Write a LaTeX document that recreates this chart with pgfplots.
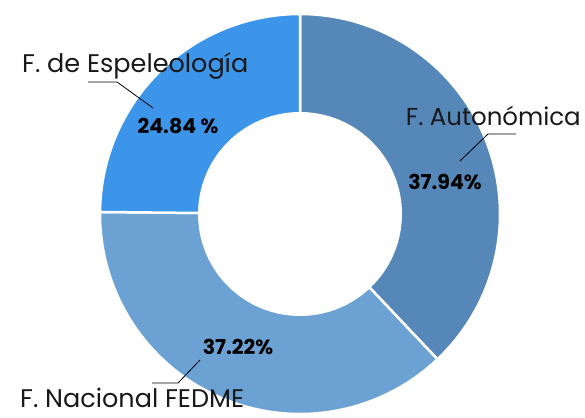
\documentclass[border=0pt]{standalone}
\usepackage{pgfplots}
\pgfplotsset{compat=1.18}
\usepackage{fontspec}
\setmainfont{Poppins}
\definecolor{cA}{HTML}{5587B9}
\definecolor{cB}{HTML}{6CA2D3}
\definecolor{cC}{HTML}{3C95E9}
\begin{document}
\begin{tikzpicture}
% shares (percent)
\pgfmathsetmacro{\pA}{37.94}% F. Autonomica
\pgfmathsetmacro{\pB}{37.22}% F. Nacional FEDME
\pgfmathsetmacro{\pC}{24.84}% F. de Espeleologia
\pgfmathsetmacro{\aA}{90}
\pgfmathsetmacro{\aB}{\aA-3.6*\pA}
\pgfmathsetmacro{\aC}{\aB-3.6*\pB}
\pgfmathsetmacro{\aD}{\aC-3.6*\pC}
\begin{axis}[name=ax, hide axis, scale only axis, width=585pt, height=417pt,
  xmin=0, xmax=585, ymin=0, ymax=417, clip=false]
\addplot[fill=cA, draw=white, line width=2.5pt, line join=round, domain=\aB:\aA, samples=120, variable=\t]
  ({300+200*cos(\t)},{203+200*sin(\t)}) -- (axis cs:300,203) -- cycle;
\addplot[fill=cB, draw=white, line width=2.5pt, line join=round, domain=\aC:\aB, samples=120, variable=\t]
  ({300+200*cos(\t)},{203+200*sin(\t)}) -- (axis cs:300,203) -- cycle;
\addplot[fill=cC, draw=white, line width=2.5pt, line join=round, domain=\aD:\aC, samples=120, variable=\t]
  ({300+200*cos(\t)},{203+200*sin(\t)}) -- (axis cs:300,203) -- cycle;
\addplot[fill=white, draw=none, domain=0:360, samples=160, variable=\t]
  ({300+102*cos(\t)},{203+102*sin(\t)});
% leader lines
\addplot[black, line width=0.8pt] coordinates {(88,335) (117,335) (153,309)};
\addplot[black, line width=0.8pt] coordinates {(516,283) (488,283) (460,256)};
\addplot[black, line width=0.8pt] coordinates {(152,34) (178,34) (200,57)};
% category labels
\node[anchor=base west, inner sep=0pt, font=\fontsize{25.5}{30}\selectfont, text=black!90] at (axis cs:22,344) {F. de Espeleología};
\node[anchor=base east, inner sep=0pt, font=\fontsize{24.5}{30}\selectfont, text=black!90] at (axis cs:581,291) {F. Autonómica};
\node[anchor=base west, inner sep=0pt, font=\fontsize{25.5}{30}\selectfont, text=black!90] at (axis cs:20,10) {F. Nacional FEDME};
% value labels
\node[anchor=base, inner sep=0pt, font=\fontsize{20.5}{24}\selectfont\bfseries] at (axis cs:178,283) {24.84 \%};
\node[anchor=base, inner sep=0pt, font=\fontsize{20.5}{24}\selectfont\bfseries] at (axis cs:445,227) {37.94\%};
\node[anchor=base, inner sep=0pt, font=\fontsize{20.5}{24}\selectfont\bfseries] at (axis cs:238,62) {37.22\%};
\end{axis}
\pgfresetboundingbox
\path (ax.south west) rectangle (ax.north east);
\end{tikzpicture}
\end{document}
